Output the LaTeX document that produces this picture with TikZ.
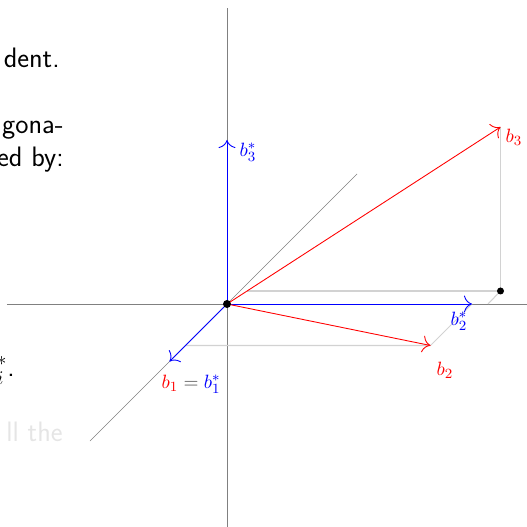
\documentclass[tikz,border=0pt,11pt]{standalone}
\usetikzlibrary{arrows.meta}
\begin{document}
\begin{tikzpicture}[>={To[scale=1.7]},ax/.style={gray},hl/.style={gray!35,line width=.6pt},vb/.style={->,red,line width=.5pt},vs/.style={->,blue,line width=.5pt},txt/.style={font=\fontsize{16}{19}\selectfont\sffamily,anchor=base east,inner sep=0pt}]
\useasboundingbox(-4.54,-4.46)rectangle(6,6.08);
\coordinate(XL)at(-4.4,0);\coordinate(XR)at(6,0);\coordinate(ZL)at(0,-4.46);\coordinate(ZU)at(0,5.92);\coordinate(YL)at(-2.74,-2.74);\coordinate(YU)at(2.6,2.6);
\coordinate(O)at(0,0);\coordinate(B1)at(-1.15,-1.15);\coordinate(S2)at(4.9,0);\coordinate(S3)at(0,3.28);
\coordinate(B2)at(4.07,-.83);\coordinate(B3)at(5.47,3.54);\coordinate(P)at(5.47,.26);
\coordinate(A3)at(5.22,0);\coordinate(D3)at(.4,.26);\coordinate(D2)at(-.83,-.83);
\draw[ax](XL)--(XR);\draw[ax](ZL)--(ZU);\draw[ax](YL)--(YU);
\draw[hl](B3)--(P)--(D3);\draw[hl](P)--(A3);\draw[hl](D2)--(B2)--(S2);
\draw[vs](O)--(B1);\draw[vs](O)--(S2);\draw[vs](O)--(S3);\draw[vb](O)--(B2);\draw[vb](O)--(B3);
\fill(O)circle(.08);\fill(P)circle(.07);
\node[blue](l3s)at(.42,3.04){$b_3^*$};\node[red](l3)at(5.74,3.34){$b_3$};
\node[blue](l2s)at(4.64,-.34){$b_2^*$};\node[red](l2)at(4.36,-1.32){$b_2$};
\node(l1)at(-.72,-1.6){$\color{red}b_1\color{black!70}=\color{blue}b_1^*$};
\node[txt](t1)at(-3.34,4.72){dent.};\node[txt](t2)at(-3.26,3.4){gona-};\node[txt](t3)at(-3.26,2.74){ed by:};
\node[txt](t4)at(-4.24,-1.46){$b_i^*$.};\node[txt,black!10](t5)at(-3.28,-2.76){ll the};
\end{tikzpicture}
\end{document}
